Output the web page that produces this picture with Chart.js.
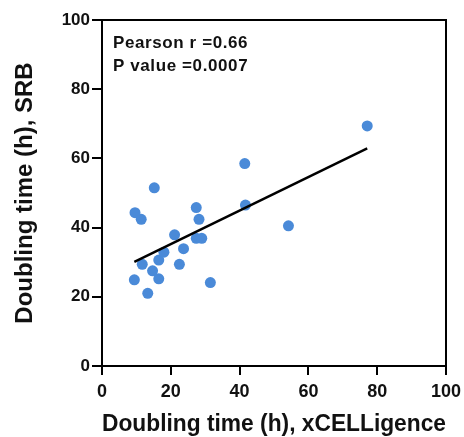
<!DOCTYPE html>
<html lang="en">
<head>
    <meta charset="UTF-8">
    <title>Doubling time: xCELLigence vs SRB</title>
    <script src="https://cdn.jsdelivr.net/npm/chart.js"></script>
    <style>
        html, body { margin: 0; padding: 0; background: #fff; }
    </style>
</head>
<body>
    <canvas id="doublingChart" width="464" height="437"></canvas>
    <script>
        // doubling times (h)
        const xcelligence = [9.4, 9.6, 11.4, 11.7, 13.3, 14.7, 15.2, 16.5, 16.5, 18.0, 21.1,
                             22.5, 23.7, 27.4, 28.2, 27.4, 29.0, 31.5, 41.5, 41.7, 54.2, 77.1];
        const srb = [24.9, 44.3, 42.4, 29.4, 21.0, 27.5, 51.5, 25.2, 30.6, 32.9, 37.9,
                     29.4, 33.9, 45.8, 42.4, 36.9, 36.9, 24.1, 58.5, 46.5, 40.5, 69.4];

        // regression line end points
        const fitX = [9.4, 77.1];
        const fitY = [30.1, 62.9];

        const statsLines = ['Pearson r =0.66', 'P value =0.0007'];

        const fontFamily = '"Liberation Sans", Arial, sans-serif';

        // box around the plot + correlation text
        const framePlugin = {
            id: 'frame',
            afterDatasetsDraw(chart) {
                const { ctx, chartArea: a } = chart;
                ctx.save();
                ctx.strokeStyle = '#000';
                ctx.lineWidth = 2;
                ctx.beginPath();
                ctx.moveTo(a.left, a.top);
                ctx.lineTo(a.right, a.top);
                ctx.lineTo(a.right, a.bottom);
                ctx.stroke();

                ctx.fillStyle = '#111';
                ctx.font = 'bold 17px ' + fontFamily;
                ctx.textBaseline = 'alphabetic';
                ctx.letterSpacing = '0.6px';
                statsLines.forEach((line, i) => {
                    ctx.fillText(line, a.left + 11, a.top + 28 + i * 23);
                });
                ctx.restore();
            }
        };

        const ctx = document.getElementById('doublingChart').getContext('2d');

        new Chart(ctx, {
            type: 'scatter',
            data: {
                datasets: [
                    {
                        label: 'Linear fit',
                        data: fitX.map((x, i) => ({ x: x, y: fitY[i] })),
                        showLine: true,
                        borderColor: '#000',
                        borderWidth: 2.5,
                        pointRadius: 0,
                        order: 0
                    },
                    {
                        label: 'Cell lines',
                        data: xcelligence.map((x, i) => ({ x: x, y: srb[i] })),
                        backgroundColor: '#4a8ad8',
                        borderWidth: 0,
                        pointRadius: 5.5,
                        order: 1
                    }
                ]
            },
            options: {
                responsive: false,
                animation: false,
                layout: {
                    padding: { top: 20, right: 18, left: 0, bottom: 0 }
                },
                plugins: {
                    legend: { display: false },
                    tooltip: { enabled: false }
                },
                scales: {
                    x: {
                        type: 'linear',
                        min: 0,
                        max: 100,
                        afterFit: (scale) => {
                            scale.height = 71;
                            scale.paddingRight = 0;
                        },
                        ticks: {
                            stepSize: 20,
                            color: '#111',
                            padding: 6,
                            maxRotation: 0,
                            font: { family: fontFamily, size: 18, weight: 'bold' }
                        },
                        grid: {
                            drawOnChartArea: false,
                            drawTicks: true,
                            tickLength: 9,
                            color: '#000',
                            lineWidth: 2
                        },
                        border: { color: '#000', width: 2 },
                        title: {
                            display: true,
                            text: 'Doubling time (h), xCELLigence',
                            color: '#111',
                            padding: { top: 0, bottom: 1 },
                            font: { family: fontFamily, size: 23, weight: 'bold', lineHeight: 1 }
                        }
                    },
                    y: {
                        type: 'linear',
                        min: 0,
                        max: 100,
                        afterFit: (scale) => { scale.width = 102; },
                        ticks: {
                            stepSize: 20,
                            color: '#111',
                            padding: 2,
                            font: { family: fontFamily, size: 17, weight: 'bold' }
                        },
                        grid: {
                            drawOnChartArea: false,
                            drawTicks: true,
                            tickLength: 10,
                            color: '#000',
                            lineWidth: 2
                        },
                        border: { color: '#000', width: 2 },
                        title: {
                            display: true,
                            text: 'Doubling time (h), SRB',
                            color: '#111',
                            padding: { top: 13, bottom: 0 },
                            font: { family: fontFamily, size: 24, weight: 'bold', lineHeight: 1 }
                        }
                    }
                }
            },
            plugins: [framePlugin]
        });
    </script>
</body>
</html>
